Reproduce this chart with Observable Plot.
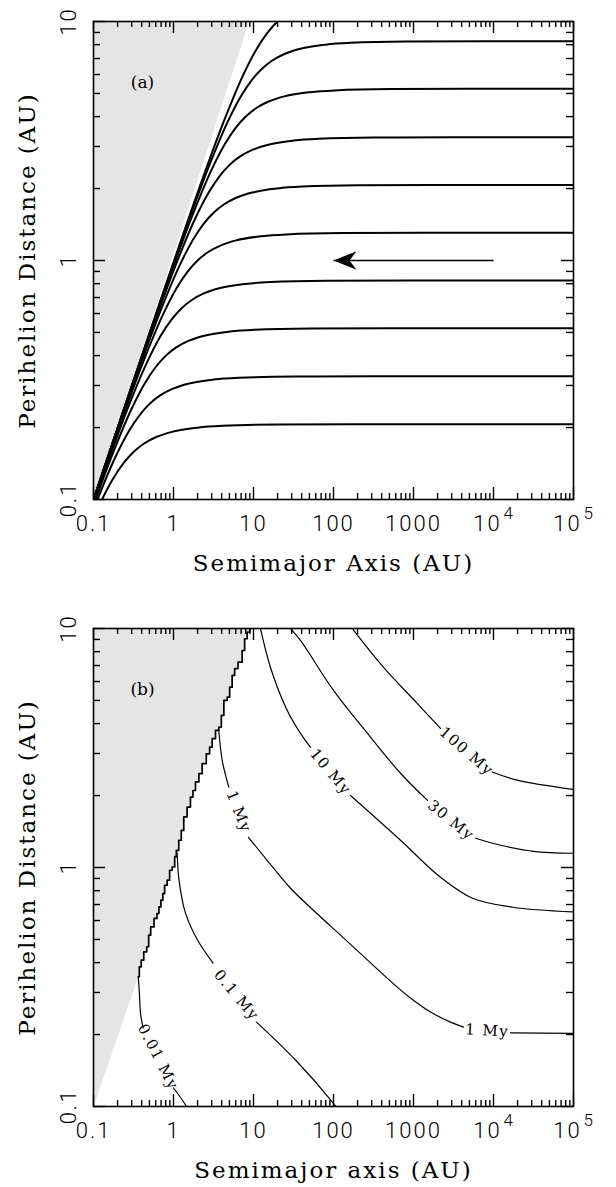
<!DOCTYPE html>
<html><head><meta charset="utf-8">
<script src="https://cdn.jsdelivr.net/npm/d3@7"></script>
<script src="https://cdn.jsdelivr.net/npm/@observablehq/plot@0.6"></script>
<style>
body{margin:0;background:#fff;}
#chart svg{display:block;}
</style></head><body><div id="chart"></div>
<script>
// ---------- axes ----------
const xDomain = [0.1, 1e5];
const yDomain = [0.1, 10];
const xMajor = [0.1, 1, 10, 100, 1000, 1e4, 1e5];
const xPlainTicks = [0.1, 1, 10, 100, 1000];
const xPlainLabels = ["0.1", "1", "10", "100", "1000"];
const xPowerTicks = [1e4, 1e5];
const xPowerBase = ["10", "10"];
const xPowerExp = ["4", "5"];
const xMinor = [0.2,0.3,0.4,0.5,0.6,0.7,0.8,0.9, 2,3,4,5,6,7,8,9, 20,30,40,50,60,70,80,90,
  200,300,400,500,600,700,800,900, 2000,3000,4000,5000,6000,7000,8000,9000,
  20000,30000,40000,50000,60000,70000,80000,90000];
const yMajor = [0.1, 1, 10];
const yMajorLabels = ["0.1", "1", "10"];
const yMinor = [0.2,0.3,0.4,0.5,0.6,0.7,0.8,0.9, 2,3,4,5,6,7,8,9];
const yTitle = "Perihelion Distance (AU)";
const xTitleA = "Semimajor Axis (AU)";
const xTitleB = "Semimajor axis (AU)";

// ---------- panel (a): evolution tracks [a, q] ----------
const grayA = [[0.1, 0.1], [8.8, 10], [0.1, 10]];
const trackQ021 = [[0.0661,0.0595],[0.1187,0.0950],[0.1732,0.1213],[0.2362,0.1417],[0.3163,0.1581],[0.4288,0.1715],[0.6088,0.1826],[0.9596,0.1919],[1.998,0.1998],[4.066,0.2033],[20.59,0.2059],[206.4,0.2064],[1e5,0.2065]];
const trackQ033 = [[0.0599,0.0569],[0.1050,0.0945],[0.1886,0.1509],[0.2751,0.1926],[0.3752,0.2251],[0.5024,0.2512],[0.6811,0.2725],[0.9670,0.2901],[1.524,0.3049],[3.174,0.3174],[6.458,0.3229],[32.70,0.3270],[327.9,0.3279],[1e5,0.328]];
const trackQ052 = [[0.0456,0.0447],[0.0951,0.0903],[0.1668,0.1501],[0.2995,0.2396],[0.4370,0.3059],[0.5960,0.3576],[0.7980,0.3990],[1.082,0.4328],[1.536,0.4608],[2.421,0.4842],[5.041,0.5041],[10.26,0.5129],[51.94,0.5194],[520.8,0.5208],[1e5,0.521]];
const trackQ083 = [[0.0415,0.0410],[0.0722,0.0708],[0.1506,0.1430],[0.2641,0.2377],[0.4743,0.3794],[0.6921,0.4844],[0.9437,0.5662],[1.264,0.6318],[1.713,0.6853],[2.432,0.7297],[3.834,0.7668],[7.982,0.7982],[16.24,0.8121],[82.25,0.8225],[824.8,0.8248],[1e5,0.825]];
const trackQ131 = [[0.0656,0.0650],[0.1143,0.1120],[0.2383,0.2264],[0.4182,0.3763],[0.7508,0.6007],[1.096,0.7669],[1.494,0.8964],[2.000,1.000],[2.712,1.085],[3.850,1.155],[6.069,1.214],[12.64,1.264],[25.71,1.286],[130.2,1.302],[1306,1.306],[1e5,1.306]];
const trackQ207 = [[0.0597,0.0594],[0.1040,0.1030],[0.1811,0.1775],[0.3778,0.3589],[0.6628,0.5965],[1.190,0.9520],[1.736,1.216],[2.368,1.421],[3.170,1.585],[4.299,1.720],[6.103,1.831],[9.620,1.924],[20.03,2.003],[40.75,2.038],[206.4,2.064],[2069,2.069],[1e5,2.07]];
const trackQ328 = [[0.0455,0.0454],[0.0946,0.0942],[0.1648,0.1631],[0.2870,0.2813],[0.5986,0.5687],[1.050,0.9452],[1.886,1.509],[2.752,1.926],[3.752,2.251],[5.024,2.512],[6.811,2.725],[9.670,2.901],[15.24,3.049],[31.74,3.174],[64.58,3.229],[327.0,3.270],[3279,3.279],[1e5,3.28]];
const trackQ523 = [[0.0725,0.0724],[0.1509,0.1502],[0.2628,0.2601],[0.4576,0.4485],[0.9545,0.9067],[1.675,1.507],[3.007,2.405],[4.387,3.071],[5.983,3.590],[8.010,4.005],[10.86,4.345],[15.42,4.626],[24.31,4.861],[50.60,5.060],[103.0,5.149],[521.4,5.214],[5228,5.228],[1e5,5.23]];
const trackQ827 = [[0.0659,0.0658],[0.1146,0.1144],[0.2386,0.2374],[0.4155,0.4113],[0.7237,0.7092],[1.509,1.434],[2.648,2.383],[4.754,3.804],[6.937,4.856],[9.460,5.676],[12.67,6.333],[17.17,6.870],[24.38,7.314],[38.43,7.687],[80.02,8.002],[162.8,8.141],[824.5,8.245],[8268,8.268],[1e5,8.27]];
const trackQ131b = [[0.0599,0.0599],[0.1043,0.1042],[0.1816,0.1812],[0.3780,0.3761],[0.6582,0.6516],[1.146,1.123],[2.391,2.271],[4.194,3.775],[7.531,6.025],[10.99,7.692],[14.99,8.991],[20.06,10.03],[27.20,10.88]];
const tracksA = [trackQ021, trackQ033, trackQ052, trackQ083, trackQ131, trackQ207, trackQ328, trackQ523, trackQ827, trackQ131b];
const arrowTail = [1e4, 1];
const arrowTip = [100, 1];

// ---------- panel (b): lifetime contours [a, q] ----------
const jagB = [[0.363,0.349],[0.385,0.384],[0.406,0.410],[0.445,0.444],[0.481,0.466],[0.498,0.521],[0.540,0.564],[0.604,0.612],[0.640,0.642],[0.676,0.684],[0.716,0.730],[0.756,0.778],[0.794,0.843],[0.873,0.885],[0.917,0.974],[1.01,1.005],[1.06,1.11],[1.11,1.18],[1.22,1.30],[1.28,1.43],[1.41,1.63],[1.55,1.79],[1.71,1.97],[1.79,2.10],[1.98,2.28],[2.18,2.47],[2.39,2.72],[2.76,2.99],[2.90,3.19],[3.19,3.46],[3.52,3.75],[3.87,3.87],[4.06,4.33],[4.47,5.00],[4.91,5.16],[5.16,5.68],[5.67,6.36],[5.96,6.79],[6.88,7.23],[7.56,8.09],[7.94,9.06],[8.74,9.65],[9.31,10.19]];
const c001a = [[0.363,0.349],[0.376,0.292],[0.387,0.246],[0.416,0.213]];
const c001b = [[1.0,0.1195],[1.45,0.1],[1.55,0.094]];
const c01a = [[1.112,1.147],[1.172,0.885],[1.413,0.644],[1.995,0.497],[3.126,0.398]];
const c01b = [[10.9,0.2255],[33.5,0.1565],[99.2,0.1034],[120,0.095]];
const c1a = [[3.68,3.75],[4.06,2.81],[4.91,2.17]];
const c1b = [[8.66,1.338],[14.8,1.072],[29.0,0.819],[59.6,0.650],[122.3,0.521],[251,0.4175],[516,0.3346],[917,0.2842],[1632,0.2483],[2901,0.2255],[4217,0.2149]];
const c1c = [[16313,0.2034],[1e5,0.2023]];
const c10a = [[11.8,10.5],[12.2,10.0],[16.3,6.87],[26.4,4.54],[38.7,3.64],[51.6,3.18]];
const c10b = [[163,2.0],[688,1.30],[2175,0.91],[5464,0.744],[17280,0.682],[1e5,0.652]];
const c30a = [[25.7,10.5],[29.0,10.0],[38.7,8.91],[100,5.51],[266,3.64],[688,2.48],[1496,1.91]];
const c30b = [[5957,1.325],[12232,1.239],[31623,1.169],[1e5,1.147]];
const c100a = [[153,10.5],[171,10.0],[422,6.87],[1112,4.86],[2175,3.82]];
const c100b = [[9636,2.51],[19770,2.32],[1e5,2.12]];
const contoursB = [c001a, c001b, c01a, c01b, c1a, c1b, c1c, c10a, c10b, c30a, c30b, c100a, c100b];
const contourLabelText = ["0.01 My", "0.1 My", "1 My", "1 My", "10 My", "30 My", "100 My"];
const contourLabelA = [0.64, 6.13, 6.55, 8337, 91.7, 2944, 4597];
const contourLabelQ = [0.161, 0.292, 1.71, 0.2078, 2.51, 1.575, 3.06];
const contourLabelAngle = [63, 50, 68, 3, 50, 39, 41];

// ---------- layout ----------
const W = 616, ML = 93, MR = 43, MT = 21, IH = 478;
const IW = W - ML - MR;
const serif = "DejaVu Serif";
const sans = "Roboto";
const spacingBySize = {"23": "2px", "22": "2px", "15": "1.4px"};

function frameMarks(xTitle, tag) {
  const tick = {stroke: "black", strokeWidth: 1.4};
  const tickText = {lineAnchor: "middle", fontFamily: sans, fontWeight: 300, fill: "black"};
  return [
    Plot.ruleX(xMajor, {...tick, insetTop: IH - 12}),
    Plot.ruleX(xMajor, {...tick, insetBottom: IH - 12}),
    Plot.ruleX(xMinor, {...tick, insetTop: IH - 6}),
    Plot.ruleX(xMinor, {...tick, insetBottom: IH - 6}),
    Plot.ruleY(yMajor, {...tick, insetRight: IW - 12}),
    Plot.ruleY(yMajor, {...tick, insetLeft: IW - 12}),
    Plot.ruleY(yMinor, {...tick, insetRight: IW - 7}),
    Plot.ruleY(yMinor, {...tick, insetLeft: IW - 7}),
    Plot.frame({stroke: "black", strokeWidth: 1.6}),
    Plot.text(xPlainTicks, {...tickText, x: d => d, text: (d, i) => xPlainLabels[i], frameAnchor: "bottom", dy: 24,
      textAnchor: "middle", fontSize: 22}),
    Plot.text(xPowerTicks, {...tickText, x: d => d, text: (d, i) => xPowerBase[i], frameAnchor: "bottom", dy: 24, dx: -6,
      textAnchor: "middle", fontSize: 22}),
    Plot.text(xPowerTicks, {...tickText, x: d => d, text: (d, i) => xPowerExp[i], frameAnchor: "bottom", dy: 14, dx: 10,
      textAnchor: "start", fontSize: 17}),
    Plot.text(yMajor, {...tickText, y: d => d, text: (d, i) => yMajorLabels[i], frameAnchor: "left", dx: -25, rotate: -90,
      textAnchor: "middle", fontSize: 22}),
    Plot.text([xTitle], {frameAnchor: "bottom", dy: 64, lineAnchor: "middle", textAnchor: "middle",
      fontFamily: serif, fontSize: 23, fill: "black"}),
    Plot.text([yTitle], {frameAnchor: "left", dx: -66, rotate: -90, lineAnchor: "middle", textAnchor: "middle",
      fontFamily: serif, fontSize: 23, fill: "black"}),
    Plot.text([tag], {frameAnchor: "top-left", dx: 49, dy: 61, lineAnchor: "middle", textAnchor: "middle",
      fontFamily: serif, fontSize: 17, fill: "black"})
  ];
}

const common = {
  width: W, marginLeft: ML, marginRight: MR, marginTop: MT,
  x: {type: "log", domain: xDomain, axis: null},
  y: {type: "log", domain: yDomain, axis: null},
  style: {background: "white", color: "black", overflow: "visible"}
};

const headSymbol = {
  draw(ctx) {
    ctx.moveTo(0, 0);
    ctx.lineTo(23, -9.3);
    ctx.lineTo(16, 0);
    ctx.lineTo(23, 9.3);
    ctx.closePath();
  }
};

const plotA = Plot.plot({
  ...common, height: 607, marginBottom: 108,
  marks: [
    Plot.line(grayA, {x: d => d[0], y: d => d[1], fill: "#e5e5e5", stroke: "none", clip: true}),
    ...tracksA.map(t => Plot.line(t, {x: d => d[0], y: d => d[1], curve: "monotone-x", stroke: "black", strokeWidth: 2, clip: true})),
    Plot.link([[arrowTail, arrowTip]], {x1: d => d[0][0], y1: d => d[0][1], x2: d => d[1][0], y2: d => d[1][1], stroke: "black", strokeWidth: 1.3}),
    Plot.dot([arrowTip], {x: d => d[0], y: d => d[1], symbol: headSymbol, fill: "black", stroke: "none"}),
    ...frameMarks(xTitleA, "(a)")
  ]
});

const grayB = [[0.1, 0.1], ...jagB, [0.1, 10.5]];
const labelRows = contourLabelText.map((t, i) => ({t, a: contourLabelA[i], q: contourLabelQ[i], r: contourLabelAngle[i]}));

const plotB = Plot.plot({
  ...common, height: 580, marginBottom: 81,
  marks: [
    Plot.line(grayB, {x: d => d[0], y: d => d[1], fill: "#e5e5e5", stroke: "none", clip: true}),
    Plot.line(jagB, {x: d => d[0], y: d => d[1], curve: "step", stroke: "black", strokeWidth: 1.7, clip: true}),
    ...contoursB.map(c => Plot.line(c, {x: d => d[0], y: d => d[1], curve: "catmull-rom", stroke: "black", strokeWidth: 1.2, clip: true})),
    Plot.text(labelRows, {x: "a", y: "q", text: "t", rotate: "r", lineAnchor: "middle", textAnchor: "middle",
      fontFamily: serif, fontSize: 15, fill: "black"}),
    ...frameMarks(xTitleB, "(b)")
  ]
});

for (const svg of [plotA, plotB]) {
  svg.querySelectorAll("text").forEach(t => {
    const g = t.closest("[font-size]");
    const fs = g ? String(g.getAttribute("font-size")) : "";
    if (spacingBySize[fs]) t.setAttribute("letter-spacing", spacingBySize[fs]);
  });
}

document.getElementById("chart").append(plotA, plotB);
</script></body></html>
